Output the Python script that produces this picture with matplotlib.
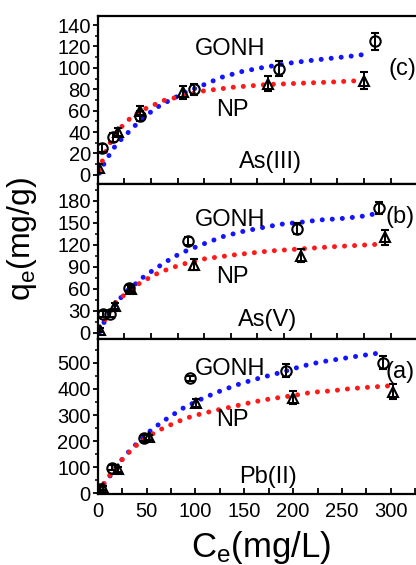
import matplotlib
matplotlib.use("Agg")
import matplotlib.pyplot as plt
from matplotlib.ticker import MultipleLocator

plt.rcParams["font.family"] = ["Liberation Sans", "DejaVu Sans"]
plt.rcParams["mathtext.default"] = "regular"

# ---- As(III) ----
as3_gonh_x = [4.5, 14.5, 40, 90, 170, 260]
as3_gonh_y = [25, 35, 55, 80, 99, 125]
as3_gonh_err = [4, 4, 5, 5, 7, 8]
as3_np_x = [1.5, 19, 40, 80, 160, 250]
as3_np_y = [6, 40, 60, 77, 85, 88]
as3_np_err = [4, 4, 4, 6, 7, 8]
as3_fit_gonh_x = [1.5, 6.2, 11.5, 17.8, 26.3, 35, 43.8, 52.9, 61.6, 71, 80.4, 99.2,
                  116.4, 135.2, 153.3, 180.6, 199.3, 218, 235.3, 254]
as3_fit_gonh_y = [1.6, 10.9, 19.6, 29, 37.3, 46, 53.8, 61.3, 66.6, 71.3, 76.3, 84,
                  91.2, 96.5, 100, 104.5, 106.8, 108.8, 110.6, 113]
as3_fit_np_x = [1.5, 6.9, 11.5, 17.8, 25.6, 33.4, 43.5, 52.9, 61.6, 80.4, 99.2,
                127.3, 158.7, 190, 221.2, 244.7]
as3_fit_np_y = [4, 20.8, 29.6, 39.9, 48.3, 55.4, 61.3, 65.4, 69.4, 74, 78.4,
                81.9, 84.4, 85.6, 86.8, 88]

# ---- As(V) ----
as5_gonh_x = [5, 11.5, 29, 85, 187, 264]
as5_gonh_y = [25, 26, 61, 125, 142, 170]
as5_gonh_err = [4, 4, 4, 6, 7, 8]
as5_np_x = [2, 16, 31, 90, 191, 270]
as5_np_y = [4, 37, 59, 93, 105, 130]
as5_np_err = [3, 4, 4, 7, 9, 10]
as5_fit_gonh_x = [2.2, 6.2, 11.5, 17.8, 26, 35, 43.8, 52.9, 62.3, 71, 80.4, 98.6,
                  117.4, 135.2, 154, 171.8, 190, 208.7, 227.5, 246.3, 263.5]
as5_fit_gonh_y = [1.4, 15, 28.6, 41, 55, 66, 77, 86, 95, 103, 110, 120.6,
                  131, 137.8, 143.2, 147.9, 150.5, 153.8, 155.5, 158.3, 162.9]
as5_fit_np_x = [2.2, 11.5, 17.8, 35, 52.9, 62.3, 71, 80.4, 99.2, 127.3, 161.8,
                190, 221.2, 263.5]
as5_fit_np_y = [6, 28.6, 42.8, 63.7, 78.7, 84.6, 89.2, 93.7, 100.5, 106, 111.5,
                114.2, 117.3, 120.6]

# ---- Pb(II) ----
pb_gonh_x = [2.4, 15, 47, 94, 193, 292]
pb_gonh_y = [19, 98, 212, 440, 470, 500]
pb_gonh_err = [8, 10, 10, 8, 25, 25]
pb_np_x = [5.7, 21, 52, 101, 200, 302]
pb_np_y = [22, 92, 215, 345, 367, 390]
pb_np_err = [8, 10, 10, 15, 24, 28]
pb_fit_gonh_x = [1.6, 6.8, 14.3, 21.1, 29, 38.2, 47.7, 57.6, 67.9, 78.1, 87.6, 108,
                 128, 147.4, 167.9, 188.3, 208.8, 227.5, 248, 268.5, 287.2]
pb_fit_gonh_y = [3, 41, 75, 113, 149, 184, 221, 251, 279, 304, 327, 365,
                 396, 422, 444, 464, 487, 503, 515, 527, 537]
pb_fit_np_x = [1.6, 6.8, 14.3, 21.1, 29, 38.2, 48, 58, 68, 79, 89, 100, 118,
               139, 159, 178, 199, 219, 240, 258, 279, 299]
pb_fit_np_y = [4, 40, 80, 113, 146, 180, 208, 232, 252, 270, 286, 299, 316,
               333, 350, 363, 374, 387, 393, 401, 407, 412]

W, H = 416, 565
fig = plt.figure(figsize=(W / 100, H / 100), dpi=100)


def px_axes(top, bottom, left=97.7, right=430):
    return fig.add_axes([left / W, 1 - bottom / H, (right - left) / W, (bottom - top) / H])


def draw_panel(ax, gonh, np_, fit_g, fit_n, ylim, ymaj, xlim):
    dot = dict(linestyle=(0, (0.01, 2.0)), linewidth=3.6,
               dash_capstyle="round", zorder=2)
    ax.plot(*fit_g, color="#1414ff", **dot)
    ax.plot(*fit_n, color="#ff1a1a", **dot)
    eb = dict(color="black", ecolor="black", elinewidth=1.4, capsize=3,
              capthick=1.4, linestyle="none", markersize=7.5, markeredgewidth=1.5,
              markerfacecolor="none", zorder=3)
    ax.errorbar(gonh[0], gonh[1], yerr=gonh[2], marker="o", **eb)
    ax.errorbar(np_[0], np_[1], yerr=np_[2], marker="^", **eb)
    ax.set_xlim(*xlim)
    ax.set_ylim(*ylim)
    ax.yaxis.set_major_locator(MultipleLocator(ymaj))
    ax.yaxis.set_minor_locator(MultipleLocator(ymaj / 2))
    ax.xaxis.set_major_locator(MultipleLocator(50))
    ax.xaxis.set_minor_locator(MultipleLocator(25))
    ax.tick_params(axis="x", which="both", direction="in", length=4, width=1.3,
                   labelsize=14.5, pad=6)
    ax.tick_params(axis="y", which="major", direction="out", length=3.5, width=1.3,
                   labelsize=14.5, pad=1.5)
    ax.tick_params(axis="y", which="minor", direction="out", length=2.2, width=1.1)
    for s in ax.spines.values():
        s.set_linewidth(1.6)


ax3 = px_axes(15.7, 184)
draw_panel(ax3, (as3_gonh_x, as3_gonh_y, as3_gonh_err),
           (as3_np_x, as3_np_y, as3_np_err),
           (as3_fit_gonh_x, as3_fit_gonh_y), (as3_fit_np_x, as3_fit_np_y),
           (-8.5, 148.7), 20, (0, 312))
ax3.tick_params(axis="x", labelbottom=False)

ax2 = px_axes(184, 339.3)
draw_panel(ax2, (as5_gonh_x, as5_gonh_y, as5_gonh_err),
           (as5_np_x, as5_np_y, as5_np_err),
           (as5_fit_gonh_x, as5_fit_gonh_y), (as5_fit_np_x, as5_fit_np_y),
           (-9, 202.8), 30, (0, 312))
ax2.tick_params(axis="x", labelbottom=False)

ax1 = px_axes(339.3, 494)
draw_panel(ax1, (pb_gonh_x, pb_gonh_y, pb_gonh_err),
           (pb_np_x, pb_np_y, pb_np_err),
           (pb_fit_gonh_x, pb_fit_gonh_y), (pb_fit_np_x, pb_fit_np_y),
           (-2, 590), 100, (0, 340))

# panel annotations (pixel positions)
labels = [
    ("GONH", 230, 49), ("NP", 232, 110), ("As(III)", 270, 162), ("(c)", 402, 69),
    ("GONH", 230, 220), ("NP", 232, 277), ("As(V)", 268, 320), ("(b)", 400, 217),
    ("GONH", 230, 369), ("NP", 232, 420), ("Pb(II)", 268, 477), ("(a)", 400, 372),
]
for txt, x, y in labels:
    fig.text(x / W, 1 - y / H, txt, fontsize=17, ha="center", va="center")

fig.text(22 / W, 1 - 239 / H, "q$_{e}$(mg/g)", fontsize=23, rotation=90,
         ha="center", va="center")
fig.text(261 / W, 1 - 547 / H, "C$_{e}$(mg/L)", fontsize=25,
         ha="center", va="center")

fig.savefig("out.png", dpi=100)
